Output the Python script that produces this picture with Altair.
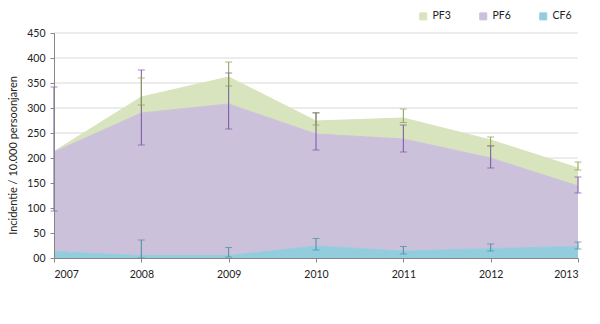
import altair as alt
import pandas as pd

years = [2007, 2008, 2009, 2010, 2011, 2012, 2013]
series = ["PF3", "PF6", "CF6"]
stack_rank = {"CF6": 0, "PF6": 1, "PF3": 2}
y_ticks = [0, 50, 100, 150, 200, 250, 300, 350, 400, 450]

# component values (stacked: CF6 bottom, PF6 middle, PF3 top)
cf6 = [13, 5, 5, 24, 14, 19, 23]
pf6 = [199, 285, 303, 224, 224, 181, 121]
pf3 = [1, 32, 54, 26, 42, 36, 36]

# error bars (on the cumulative value)
cf6_lo = [None, 0, 2, 16, 8, 14, 18]
cf6_hi = [None, 36, 21, 39, 23, 28, 32]
pf6_lo = [94, 226, 258, 216, 212, 180, 130]
pf6_hi = [342, 376, 370, 290, 266, 224, 162]
pf3_lo = [None, 306, 344, 266, 271, 225, 176]
pf3_hi = [None, 360, 392, 291, 298, 242, 192]

area_colors = ["#d7e4bd", "#ccc1da", "#93cddd"]
err_colors = ["#8aa048", "#7a52a4", "#4a8ca6"]

rows = []
for name, vals in (("CF6", cf6), ("PF6", pf6), ("PF3", pf3)):
    for y, v in zip(years, vals):
        rows.append({"year": y, "series": name, "value": v, "rank": stack_rank[name]})
df = pd.DataFrame(rows)

erows = []
for name, lo, hi in (("CF6", cf6_lo, cf6_hi), ("PF6", pf6_lo, pf6_hi), ("PF3", pf3_lo, pf3_hi)):
    for y, a, b in zip(years, lo, hi):
        if a is not None:
            erows.append({"year": y, "series": name, "lo": a, "hi": b, "rank": stack_rank[name]})
edf = pd.DataFrame(erows)

gdf = pd.DataFrame({"value": y_ticks[1:]})

font = "Lato"

y_scale = alt.Scale(domain=[0, 450], nice=False)
y_axis = alt.Axis(values=y_ticks, title="Incidentie / 10.000 persoonjaren",
                  grid=False, zindex=1, labelOverlap=False,
                  domainColor="#868686",
                  tickColor="#868686", tickSize=4, labelPadding=5,
                  labelExpr="datum.value == 0 ? '00' : datum.label",
                  labelFontSize=10.5, labelColor="#222222", labelFont=font,
                  titleFont=font, titleFontSize=11, titleFontWeight="normal",
                  titleColor="#222222", titleX=-41, titleY=122,
                  titleAlign="center", titleBaseline="middle")

x_scale = alt.Scale(domain=[2007, 2013], nice=False, zero=False)
x_axis = alt.Axis(values=years, format="d", title=None, grid=False, zindex=1,
                  labelOverlap=False,
                  domainColor="#868686", tickColor="#868686", tickSize=4,
                  labelPadding=7, labelFontSize=10.5, labelColor="#222222",
                  labelFont=font)

grid = alt.Chart(gdf).mark_rule(color="#d9d9d9", strokeWidth=1).encode(
    y=alt.Y("value:Q", scale=y_scale, axis=y_axis)
)

areas = alt.Chart(df).mark_area(
    opacity=1, line=alt.LineConfig(color="#a0a0a0", strokeWidth=1)
).encode(
    x=alt.X("year:Q", scale=x_scale, axis=x_axis),
    y=alt.Y("value:Q", stack="zero", scale=y_scale, axis=y_axis),
    color=alt.Color("series:N", scale=alt.Scale(domain=series, range=area_colors),
                    legend=alt.Legend(title=None, orient="none", legendX=364, legendY=-22,
                                      direction="horizontal", columns=3, columnPadding=26,
                                      symbolType="square", symbolSize=49,
                                      symbolStrokeColor="#a0a0a0", symbolStrokeWidth=1,
                                      labelFont=font, labelFontSize=10.5,
                                      labelColor="#222222", labelOffset=4)),
    order=alt.Order("rank:Q"),
)

err_color = alt.Color("series:N", scale=alt.Scale(domain=series, range=err_colors), legend=None)

rules = alt.Chart(edf).mark_rule(strokeWidth=1).encode(
    x=alt.X("year:Q", scale=x_scale, axis=x_axis),
    y=alt.Y("lo:Q", scale=y_scale, axis=y_axis),
    y2="hi:Q", color=err_color, order=alt.Order("rank:Q")
)
caps = alt.Chart(edf).transform_fold(["lo", "hi"], as_=["end", "v"]).mark_tick(
    orient="horizontal", size=7, thickness=1
).encode(
    x=alt.X("year:Q", scale=x_scale, axis=x_axis),
    y=alt.Y("v:Q", scale=y_scale, axis=y_axis),
    color=err_color
)

chart = alt.layer(grid, areas, rules, caps).resolve_scale(color="independent").properties(
    width=524, height=225,
    autosize=alt.AutoSizeParams(type="none"),
    padding={"left": 54, "top": 33, "right": 22, "bottom": 66},
).configure_view(stroke=None).configure_axis(labelFont=font, labelOverlap=False)

chart.save("out.html", embed_options={"renderer": "svg", "actions": False})
